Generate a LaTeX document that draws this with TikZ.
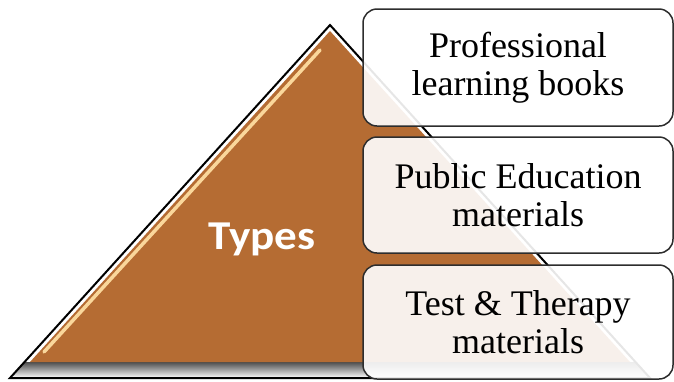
\documentclass[tikz,border=0pt]{standalone}
\usepackage{fontspec}
\setmainfont{Liberation Serif}
\newfontfamily\typesfont[FakeStretch=1.1]{Carlito}
\definecolor{pyrbrown}{RGB}{181,108,51}
\definecolor{pyrglow}{RGB}{250,215,155}
\definecolor{boxedge}{RGB}{45,45,45}

\begin{document}
\begin{tikzpicture}[x=1pt,y=-1pt,
    kind/.style={draw=boxedge, line width=1.5pt, rounded corners=14pt, fill=white,
      fill opacity=0.9, text opacity=1, minimum width=310pt, align=center,
      font=\fontsize{36}{38}\selectfont},
    title/.style={text=white, anchor=base, font=\typesfont\bfseries\fontsize{41}{44}\selectfont}]

\useasboundingbox (0,0) rectangle (674,381);
\coordinate (top) at (330,25);
\coordinate (bl) at (10,378);
\coordinate (br) at (650,378);
\fill[white] (top) -- (bl) -- (br) -- cycle;
\shade[top color=black!70, bottom color=white] (24.5,362) -- (bl) -- (br) -- (635.5,362) -- cycle;
\fill[pyrbrown] (330,31) -- (30,362) -- (630,362) -- cycle;
\draw[pyrglow, line width=3.5pt, line cap=round] (44,352) -- (320,50);
\draw[black, line width=2pt] (top) -- (bl) -- (br) -- cycle;

\node [title] (types) at (262,249) {Types};
\node [kind, minimum height=117pt] (books) at (518,67.5) {Professional\\learning books};
\node [kind, minimum height=116pt] (public) at (518,195) {Public Education\\materials};
\node [kind, minimum height=114pt] (test) at (518,322) {Test \& Therapy\\materials};
\end{tikzpicture}
\end{document}
